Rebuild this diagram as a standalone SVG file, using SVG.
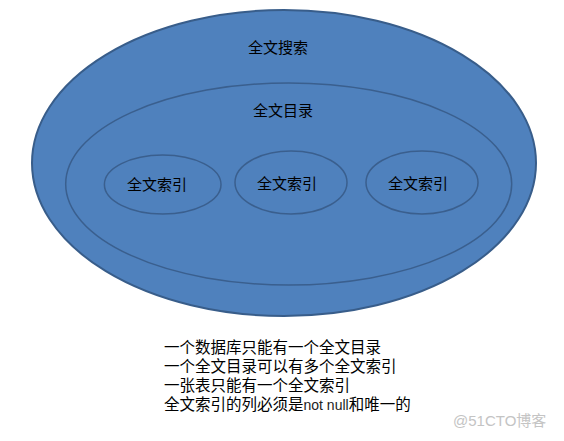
<svg xmlns="http://www.w3.org/2000/svg" width="564" height="441" viewBox="0 0 564 441">
<style>
.e{fill:#4F81BD;stroke:#385D8A;stroke-width:2}
.i{fill:none;stroke:#3A5F8E;stroke-width:1.5}
.t{font-family:"Noto Sans CJK SC","Liberation Sans",sans-serif;font-size:15px;fill:#000;text-anchor:middle}
.b{font-family:"Noto Sans CJK SC","Liberation Sans",sans-serif;font-size:15.5px;fill:#000}
.n{font-family:"Liberation Sans",sans-serif;font-size:14px;fill:#222}
.w{font-family:"Liberation Sans","Noto Sans CJK SC",sans-serif;font-size:15px;fill:#c4c4c4}
</style>
<rect width="564" height="441" fill="#fff"/>
<g id="search">
<ellipse class="e" cx="284" cy="163" rx="252" ry="153"/>
<text class="t" x="278" y="53">全文搜索</text>
</g>
<g id="catalog">
<ellipse class="i" cx="288.7" cy="184" rx="223" ry="101"/>
<text class="t" x="283" y="115.5">全文目录</text>
</g>
<g id="index1">
<ellipse class="i" cx="162.7" cy="184.5" rx="58.3" ry="29.5"/>
<text class="t" x="157" y="189.5">全文索引</text>
</g>
<g id="index2">
<ellipse class="i" cx="291" cy="182.5" rx="56" ry="31.5"/>
<text class="t" x="287" y="189">全文索引</text>
</g>
<g id="index3">
<ellipse class="i" cx="422" cy="182.5" rx="56" ry="31.5"/>
<text class="t" x="418" y="189">全文索引</text>
</g>
<g id="notes">
<text class="b" x="164" y="352.5">一个数据库只能有一个全文目录</text>
<text class="b" x="164" y="371.5">一个全文目录可以有多个全文索引</text>
<text class="b" x="164" y="390.5">一张表只能有一个全文索引</text>
<text class="b" x="164" y="409.5">全文索引的列必须是<tspan class="n">not null</tspan>和唯一的</text>
</g>
<text class="w" x="453" y="426">@51CTO博客</text>
</svg>
